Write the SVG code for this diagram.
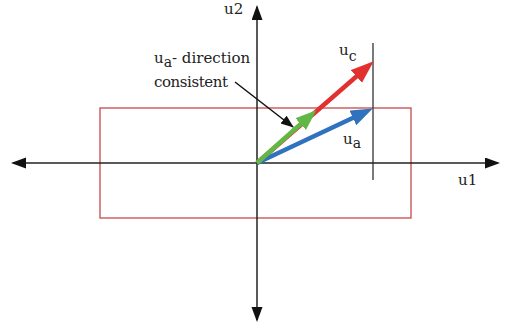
<svg xmlns="http://www.w3.org/2000/svg" width="505" height="326" viewBox="0 0 505 326">
<style>
.axis{stroke:#222;stroke-width:1.5;fill:none}
.t{font-family:"DejaVu Serif","Liberation Serif",serif;fill:#222}
.lbl{font-size:15px}
.sub{font-size:14px}
</style>
<defs>
<marker id="ah" markerUnits="userSpaceOnUse" markerWidth="16" markerHeight="12" refX="13" refY="5.5" orient="auto"><path d="M0,0 L15,5.5 L0,11 z" fill="#111"/></marker>
<marker id="hr" markerUnits="userSpaceOnUse" markerWidth="26" markerHeight="18" refX="8" refY="8.5" orient="auto"><path d="M0,0 L23,8.5 L0,17 z" fill="#e03030"/></marker>
<marker id="hg" markerUnits="userSpaceOnUse" markerWidth="24" markerHeight="18" refX="8" refY="8" orient="auto"><path d="M0,0 L21,8 L0,16 z" fill="#62b846"/></marker>
<marker id="hb" markerUnits="userSpaceOnUse" markerWidth="24" markerHeight="18" refX="8" refY="8" orient="auto"><path d="M0,0 L22,8 L0,16 z" fill="#2f72bd"/></marker>
<marker id="hk" markerUnits="userSpaceOnUse" markerWidth="16" markerHeight="12" refX="12" refY="5" orient="auto"><path d="M0,0 L13,5 L0,10 z" fill="#111"/></marker>
</defs>
<g id="region">
<rect x="100" y="108" width="311" height="110" fill="none" stroke="#c8494b" stroke-width="1.3"/>
</g>
<g id="limit">
<line x1="373" y1="43" x2="373" y2="180" stroke="#333" stroke-width="1.3"/>
</g>
<g id="connectors">
<line class="axis" x1="257" y1="163" x2="498" y2="163" marker-end="url(#ah)"/>
<line class="axis" x1="257" y1="163" x2="13" y2="163" marker-end="url(#ah)"/>
<line class="axis" x1="257" y1="163" x2="257" y2="7" marker-end="url(#ah)"/>
<line class="axis" x1="257" y1="163" x2="257" y2="320" marker-end="url(#ah)"/>
<line x1="257" y1="163" x2="362.4" y2="71.2" stroke="#e03030" stroke-width="4.5" marker-end="url(#hr)"/>
<line x1="257" y1="163" x2="360.1" y2="114.5" stroke="#2f72bd" stroke-width="4.5" marker-end="url(#hb)"/>
<line x1="257" y1="163" x2="306.6" y2="118.8" stroke="#62b846" stroke-width="4.5" marker-end="url(#hg)"/>
<line x1="235" y1="82" x2="293" y2="127" stroke="#111" stroke-width="1.5" marker-end="url(#hk)"/>
</g>
<g id="labels">
<text class="t lbl" x="458" y="185">u1</text>
<text class="t lbl" x="224" y="14">u2</text>
<text class="t lbl" x="339" y="55">u<tspan class="sub" dy="6">c</tspan></text>
<text class="t lbl" x="343" y="144">u<tspan class="sub" dy="4">a</tspan></text>
<text class="t lbl" x="154" y="62.5">u<tspan class="sub" dy="4">a</tspan><tspan dy="-4">- direction</tspan></text>
<text class="t lbl" x="154" y="86.5" textLength="74">consistent</text>
</g>
</svg>
